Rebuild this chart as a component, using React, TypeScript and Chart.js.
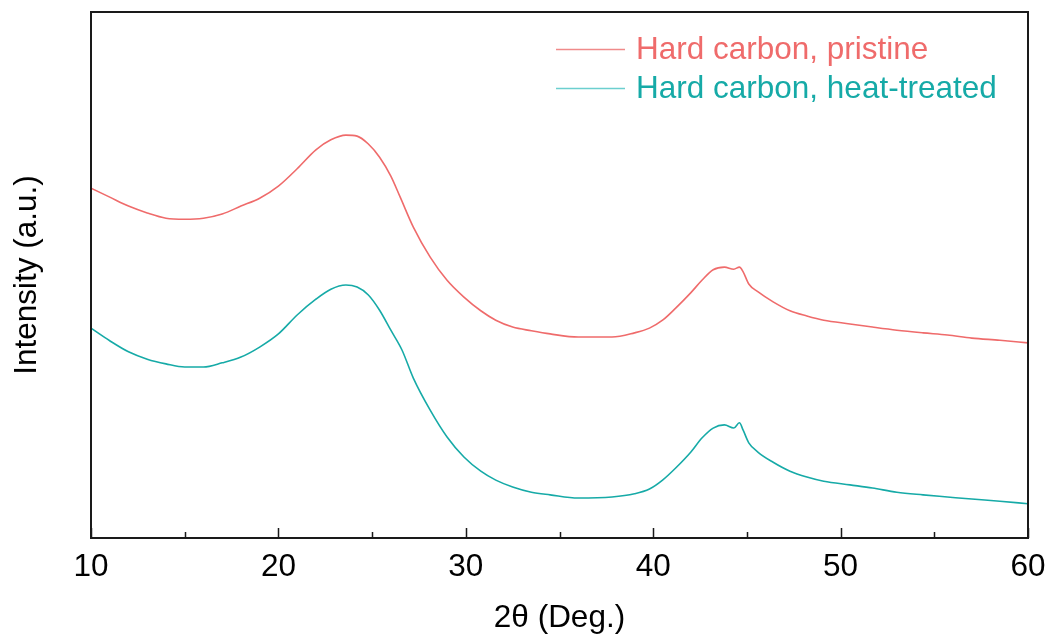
import React, { useEffect, useRef } from "react";
import { Chart, registerables } from "chart.js";

Chart.register(...registerables);

// 2θ (deg) and intensity (a.u.)
const pristineAngle = [10, 11, 12, 13, 14, 15, 16, 17, 18, 19, 20, 21, 22, 22.8, 23.6, 24.2, 24.8, 25.4, 26, 26.5, 27.2, 28.1, 29, 29.9, 30.8, 31.6, 32.5, 33.5, 34.5, 36, 37.8, 39, 39.8, 40.5, 41.2, 42, 42.6, 43.2, 43.8, 44.3, 44.6, 44.8, 45.1, 45.6, 46.4, 47.3, 48.2, 49.1, 50.5, 51.7, 53, 54.4, 55.7, 57, 58.5, 60];
const pristineIntensity = [66.5, 64.8, 63.1, 61.8, 60.8, 60.6, 60.8, 61.6, 63.1, 64.6, 66.9, 70.2, 73.8, 75.7, 76.6, 76.4, 74.9, 72.4, 68.8, 64.8, 59.1, 53.4, 49.0, 45.8, 43.2, 41.4, 40.1, 39.4, 38.8, 38.2, 38.2, 39.0, 39.9, 41.4, 43.7, 46.6, 49.0, 51.0, 51.5, 51.1, 51.5, 50.6, 48.3, 46.8, 44.9, 43.2, 42.2, 41.4, 40.7, 40.1, 39.5, 39.0, 38.6, 38.0, 37.6, 37.1];

const treatedAngle = [10, 11, 12, 13, 14, 15, 16, 17, 18, 19, 20, 21, 22, 22.8, 23.6, 24.2, 24.8, 25.4, 26, 26.6, 27.2, 28.1, 29, 29.9, 30.8, 31.6, 32.5, 33.5, 34.5, 36, 37.8, 39, 39.8, 40.5, 41.2, 42, 42.6, 43.2, 43.8, 44.3, 44.6, 44.8, 45.1, 45.6, 46.4, 47.3, 48.2, 49.1, 50.5, 51.7, 53, 54.4, 55.7, 57, 58.5, 60];
const treatedIntensity = [39.9, 37.5, 35.4, 34.0, 33.1, 32.5, 32.5, 33.3, 34.4, 36.3, 38.8, 42.4, 45.4, 47.3, 48.1, 47.7, 46.2, 43.3, 39.5, 35.7, 30.4, 24.3, 19.2, 15.4, 12.7, 11.0, 9.7, 8.7, 8.2, 7.6, 7.8, 8.4, 9.3, 11.0, 13.3, 16.3, 19.0, 20.9, 21.5, 20.9, 21.9, 20.5, 18.1, 16.3, 14.4, 12.7, 11.6, 10.8, 10.1, 9.5, 8.7, 8.2, 7.8, 7.4, 7.0, 6.5];

const seriesLabels = ["Hard carbon, pristine", "Hard carbon, heat-treated"];
const seriesColors = ["#EF6B6B", "#16AAA7"];
const legendLineColors = ["#F08A8A", "#6CCFCF"];
const xTicks = [10, 20, 30, 40, 50, 60];
const xMinorTicks = [15, 25, 35, 45, 55];

const FONT = "'Liberation Sans', Arial, Helvetica, sans-serif";
const FONT_SIZE = 31.5;

const framePlugin = {
  id: "frameAndTicks",
  afterDraw(chart: any) {
    const { ctx, chartArea } = chart;
    const xs = chart.scales.x;
    ctx.save();
    ctx.strokeStyle = "#1a1a1a";
    ctx.lineWidth = 2;
    ctx.strokeRect(chartArea.left, chartArea.top, chartArea.right - chartArea.left, chartArea.bottom - chartArea.top);
    ctx.lineWidth = 1.5;
    ctx.beginPath();
    xTicks.forEach((v) => {
      const px = Math.round(xs.getPixelForValue(v)) + 0.5;
      ctx.moveTo(px, chartArea.bottom);
      ctx.lineTo(px, chartArea.bottom - 10);
    });
    xMinorTicks.forEach((v) => {
      const px = Math.round(xs.getPixelForValue(v)) + 0.5;
      ctx.moveTo(px, chartArea.bottom);
      ctx.lineTo(px, chartArea.bottom - 6);
    });
    ctx.stroke();
    ctx.restore();
  },
};

const legendPlugin = {
  id: "inlineLegend",
  afterDraw(chart: any) {
    const { ctx } = chart;
    ctx.save();
    ctx.font = `${FONT_SIZE}px ${FONT}`;
    ctx.textBaseline = "middle";
    ctx.textAlign = "left";
    chart.data.datasets.forEach((ds: any, i: number) => {
      const y = 49 + i * 39;
      ctx.strokeStyle = legendLineColors[i];
      ctx.lineWidth = 1.3;
      ctx.beginPath();
      ctx.moveTo(556, y + 0.5);
      ctx.lineTo(625, y + 0.5);
      ctx.stroke();
      ctx.fillStyle = ds.borderColor;
      ctx.fillText(ds.label, 636, y + 1);
    });
    ctx.restore();
  },
};

export default function App() {
  const canvasRef = useRef<HTMLCanvasElement | null>(null);

  useEffect(() => {
    if (!canvasRef.current) return;
    const chart = new Chart(canvasRef.current, {
      type: "line",
      data: {
        datasets: [
          {
            label: seriesLabels[0],
            data: pristineAngle.map((a, i) => ({ x: a, y: pristineIntensity[i] })),
            borderColor: seriesColors[0],
            borderWidth: 1.6,
            pointRadius: 0,
            cubicInterpolationMode: "monotone",
            fill: false,
          },
          {
            label: seriesLabels[1],
            data: treatedAngle.map((a, i) => ({ x: a, y: treatedIntensity[i] })),
            borderColor: seriesColors[1],
            borderWidth: 1.6,
            pointRadius: 0,
            cubicInterpolationMode: "monotone",
            fill: false,
          },
        ],
      },
      options: {
        animation: false,
        responsive: false,
        maintainAspectRatio: false,
        layout: { padding: { top: 12, right: 25, left: 0, bottom: 0 } },
        plugins: {
          legend: { display: false },
          tooltip: { enabled: false },
        },
        scales: {
          x: {
            type: "linear",
            min: 10,
            max: 60,
            afterBuildTicks: (scale: any) => {
              scale.ticks = xTicks.map((v) => ({ value: v }));
            },
            afterFit: (scale: any) => {
              scale.height = 103;
              scale.paddingLeft = 0;
              scale.paddingRight = 0;
            },
            grid: { display: false, drawTicks: false },
            border: { display: false },
            ticks: {
              padding: 10,
              color: "#000",
              font: { family: FONT, size: FONT_SIZE },
              maxRotation: 0,
            },
            title: {
              display: true,
              text: "2θ (Deg.)",
              color: "#000",
              font: { family: FONT, size: FONT_SIZE },
              padding: { top: 0, bottom: 4 },
            },
          },
          y: {
            type: "linear",
            min: 0,
            max: 100,
            afterFit: (scale: any) => {
              scale.width = 91;
            },
            grid: { display: false, drawTicks: false },
            border: { display: false },
            ticks: { display: false },
            title: {
              display: true,
              text: "Intensity (a.u.)",
              color: "#000",
              font: { family: FONT, size: FONT_SIZE },
              padding: { top: 8, bottom: 0 },
            },
          },
        },
      },
      plugins: [framePlugin, legendPlugin],
    });
    return () => chart.destroy();
  }, []);

  return (
    <div style={{ position: "absolute", left: 0, top: 0, width: 1053, height: 641, background: "#fff" }}>
      <canvas ref={canvasRef} width={1053} height={641} style={{ width: 1053, height: 641 }} />
    </div>
  );
}
